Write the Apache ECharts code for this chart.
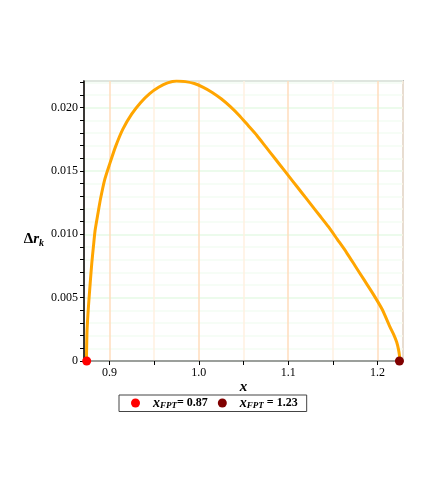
<!DOCTYPE html>
<html>
<head>
<meta charset="utf-8">
<script src="https://cdn.jsdelivr.net/npm/echarts@6/dist/echarts.min.js"></script>
<style>
  html, body { margin: 0; padding: 0; background: #fff; }
  #chart { width: 436px; height: 491px; }
</style>
</head>
<body>
<div id="chart"></div>
<script>
// curve
const xValues = [0.8742, 0.8745, 0.8749, 0.8760, 0.8772, 0.8785, 0.8802, 0.8820, 0.8839, 0.8870,
  0.8900, 0.8946, 0.9000, 0.9067, 0.9150, 0.9250, 0.9350, 0.9450, 0.9550, 0.9650,
  0.9750, 0.9850, 0.9950, 1.0050, 1.0150, 1.0250, 1.0350, 1.0450, 1.0550, 1.0650,
  1.0750, 1.0850, 1.0950, 1.1050, 1.1150, 1.1250, 1.1350, 1.1450, 1.1550, 1.1650,
  1.1750, 1.1850, 1.1950, 1.2050, 1.2139, 1.2180, 1.2214, 1.2235, 1.2246, 1.2251]
const drValues = [0, 0.0012, 0.0024, 0.0038, 0.0050, 0.0062, 0.0077, 0.0090, 0.0103, 0.0116,
  0.0128, 0.0143, 0.0155, 0.0169, 0.0183, 0.0195, 0.0204, 0.0211, 0.0216, 0.02195,
  0.0221, 0.02205, 0.0219, 0.0216, 0.0212, 0.0207, 0.0201, 0.0194, 0.0186, 0.0178,
  0.0169, 0.0160, 0.0151, 0.0142, 0.0133, 0.0124, 0.0115, 0.0106, 0.0096, 0.0086,
  0.0075, 0.0064, 0.0053, 0.0041, 0.0027, 0.0021, 0.0015, 0.0009, 0.0004, 0]

// first passage points
const fptX = [0.8745, 1.2245]
const fptLabels = ['= 0.87', ' = 1.23']
const fptColors = ['#ff0000', '#800000']

const serif = 'Liberation Serif'

const chart = echarts.init(document.getElementById('chart'))

const series = [{
  type: 'line',
  data: xValues.map((x, i) => [x, drValues[i]]),
  smooth: 0.2,
  symbol: 'none',
  lineStyle: { color: '#ffa500', width: 3 },
  z: 3
}]
fptX.forEach((x, i) => {
  series.push({
    name: fptLabels[i],
    type: 'scatter',
    data: [[x, 0]],
    symbolSize: 9,
    itemStyle: { color: fptColors[i], opacity: 1 },
    clip: false,
    z: 5
  })
})

chart.setOption({
  animation: false,
  grid: {
    left: 84, right: 33, top: 81, bottom: 130,
    show: true,
    borderColor: '#888',
    borderWidth: 1.5
  },
  legend: {
    data: fptLabels,
    left: 119,
    top: 395,
    orient: 'horizontal',
    icon: 'circle',
    itemWidth: 9,
    itemHeight: 9,
    itemGap: 10,
    padding: [1, 9, 1, 12],
    borderColor: '#444',
    borderWidth: 1,
    itemStyle: { opacity: 1 },
    formatter: name => '{x|x}{s|FPT}{v|' + name + '}',
    textStyle: {
      rich: {
        x: { fontFamily: serif, fontStyle: 'italic', fontWeight: 'bold', fontSize: 14, color: '#000', padding: [0, 0, 0, 8] },
        s: { fontFamily: serif, fontStyle: 'italic', fontWeight: 'bold', fontSize: 9, color: '#000', verticalAlign: 'bottom', padding: [6, 0, 0, 0] },
        v: { fontFamily: serif, fontWeight: 'bold', fontSize: 12, color: '#000' }
      }
    }
  },
  xAxis: {
    type: 'value',
    min: 0.8715,
    max: 1.2285,
    splitNumber: 7,
    name: 'x',
    nameLocation: 'middle',
    nameGap: 19,
    nameMoveOverlap: false,
    nameTextStyle: { fontFamily: serif, fontStyle: 'italic', fontWeight: 'bold', fontSize: 15, color: '#000' },
    axisLine: { lineStyle: { color: '#888', width: 1.5 } },
    axisTick: { show: true, length: 4, lineStyle: { color: '#000' } },
    axisLabel: {
      fontFamily: serif, fontSize: 12, color: '#000', margin: 6,
      showMinLabel: false, showMaxLabel: false,
      formatter: v => {
        const r = Math.round(v * 10) / 10
        return Math.abs(v - r) < 1e-6 ? r.toFixed(1) : ''
      }
    },
    splitLine: { show: true, lineStyle: { color: ['#fff0e0', '#ffdcbc'], width: 1.5 } }
  },
  yAxis: {
    type: 'value',
    min: 0,
    max: 0.0221,
    interval: 0.001,
    name: '{d|Δ}{r|r}{k|k}',
    nameLocation: 'middle',
    nameRotate: 0,
    nameGap: 40,
    nameTextStyle: {
      padding: [36, 0, 0, 0],
      rich: {
        d: { fontFamily: serif, fontWeight: 'bold', fontSize: 15, color: '#000' },
        r: { fontFamily: serif, fontStyle: 'italic', fontWeight: 'bold', fontSize: 15, color: '#000' },
        k: { fontFamily: serif, fontStyle: 'italic', fontWeight: 'bold', fontSize: 10, color: '#000', verticalAlign: 'bottom', padding: [8, 0, 0, 0] }
      }
    },
    axisLine: { show: true, lineStyle: { color: '#000', width: 1.5 } },
    axisTick: { show: true, length: 4, lineStyle: { color: '#000' } },
    axisLabel: {
      fontFamily: serif, fontSize: 12, color: '#000', margin: 6,
      showMaxLabel: false,
      formatter: v => {
        const k = Math.round(v * 1000)
        if (Math.abs(v * 1000 - k) > 1e-6 || k % 5 !== 0) return ''
        return k === 0 ? '0' : v.toFixed(3)
      }
    },
    splitLine: { show: true, lineStyle: { color: ['#e6fae6', '#f3fcf3', '#f3fcf3', '#f3fcf3', '#f3fcf3'], width: 1.5 } }
  },
  series: series
})
</script>
</body>
</html>
